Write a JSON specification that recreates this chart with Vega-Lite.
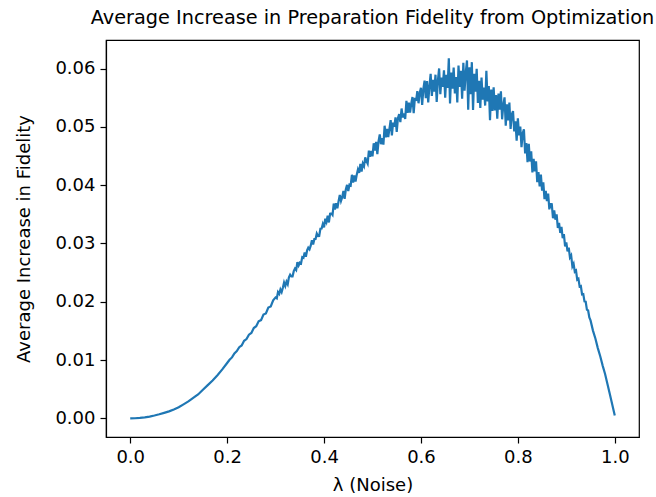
{
  "$schema": "https://vega.github.io/schema/vega-lite/v6.json",
  "width": 533,
  "height": 397,
  "autosize": {"type": "none"},
  "padding": {"left": 106, "top": 40, "right": 17, "bottom": 60},
  "background": "white",
  "title": {"text": "Average Increase in Preparation Fidelity from Optimization", "font": "DejaVu Sans", "fontSize": 19.3, "fontWeight": "normal", "color": "black", "anchor": "middle", "offset": 12},
  "data": {"values": [
    {"lambda":0,"increase":0},{"lambda":0.01,"increase":0.00002},{"lambda":0.02,"increase":0.00008},{"lambda":0.03,"increase":0.00018},{"lambda":0.04,"increase":0.0003},{"lambda":0.05,"increase":0.00048},{"lambda":0.06,"increase":0.0007},{"lambda":0.07,"increase":0.00094},{"lambda":0.08,"increase":0.0012},{"lambda":0.09,"increase":0.00153},{"lambda":0.1,"increase":0.0019},{"lambda":0.11,"increase":0.0024},{"lambda":0.12,"increase":0.0029},{"lambda":0.13,"increase":0.0035},{"lambda":0.14,"increase":0.0041},{"lambda":0.15,"increase":0.0049},{"lambda":0.16,"increase":0.0057},{"lambda":0.17,"increase":0.0065},{"lambda":0.18,"increase":0.0074},{"lambda":0.19,"increase":0.0084},{"lambda":0.2,"increase":0.0095},
    {"lambda":0.205,"increase":0.01005},{"lambda":0.21,"increase":0.01045},{"lambda":0.215,"increase":0.01115},{"lambda":0.22,"increase":0.01155},{"lambda":0.225,"increase":0.0122},{"lambda":0.23,"increase":0.0125},{"lambda":0.235,"increase":0.0133},{"lambda":0.24,"increase":0.0136},{"lambda":0.245,"increase":0.01435},{"lambda":0.25,"increase":0.01465},{"lambda":0.255,"increase":0.0155},{"lambda":0.26,"increase":0.0158},{"lambda":0.265,"increase":0.01665},{"lambda":0.27,"increase":0.01685},{"lambda":0.275,"increase":0.0178},{"lambda":0.28,"increase":0.018},{"lambda":0.285,"increase":0.019},{"lambda":0.29,"increase":0.0192},{"lambda":0.295,"increase":0.02025},
    {"lambda":0.3,"increase":0.02075},{"lambda":0.3025,"increase":0.0206},{"lambda":0.305,"increase":0.02165},{"lambda":0.3075,"increase":0.02135},{"lambda":0.31,"increase":0.0221},{"lambda":0.3125,"increase":0.02165},{"lambda":0.315,"increase":0.0224},{"lambda":0.3175,"increase":0.0233},{"lambda":0.32,"increase":0.0227},{"lambda":0.3225,"increase":0.02345},{"lambda":0.325,"increase":0.023},{"lambda":0.3275,"increase":0.0242},{"lambda":0.33,"increase":0.02465},{"lambda":0.3325,"increase":0.02435},{"lambda":0.335,"increase":0.02435},{"lambda":0.3375,"increase":0.02525},{"lambda":0.34,"increase":0.0257},{"lambda":0.3425,"increase":0.02543},{"lambda":0.345,"increase":0.0268},{"lambda":0.3475,"increase":0.02623},{"lambda":0.35,"increase":0.0267},{"lambda":0.3525,"increase":0.02657},{"lambda":0.355,"increase":0.02765},{"lambda":0.3575,"increase":0.02753},{"lambda":0.36,"increase":0.02845},{"lambda":0.3625,"increase":0.02772},{"lambda":0.365,"increase":0.0288},{"lambda":0.3675,"increase":0.02928},{"lambda":0.37,"increase":0.029},{"lambda":0.3725,"increase":0.02962},{"lambda":0.375,"increase":0.03055},{"lambda":0.3775,"increase":0.02983},{"lambda":0.38,"increase":0.03075},{"lambda":0.3825,"increase":0.03077},{"lambda":0.385,"increase":0.0317},{"lambda":0.3875,"increase":0.03128},{"lambda":0.39,"increase":0.0313},{"lambda":0.3925,"increase":0.03252},{"lambda":0.395,"increase":0.03255},{"lambda":0.3975,"increase":0.03333},
    {"lambda":0.4,"increase":0.03275},{"lambda":0.4025,"increase":0.03427},{"lambda":0.405,"increase":0.0337},{"lambda":0.4075,"increase":0.03478},{"lambda":0.41,"increase":0.0336},{"lambda":0.4125,"increase":0.03512},{"lambda":0.415,"increase":0.03515},{"lambda":0.4175,"increase":0.03488},{"lambda":0.42,"increase":0.03685},{"lambda":0.4225,"increase":0.03582},{"lambda":0.425,"increase":0.0369},{"lambda":0.4275,"increase":0.03603},{"lambda":0.43,"increase":0.03725},{"lambda":0.4325,"increase":0.03832},{"lambda":0.435,"increase":0.0373},{"lambda":0.4375,"increase":0.03793},{"lambda":0.44,"increase":0.039},{"lambda":0.4425,"increase":0.03765},{"lambda":0.445,"increase":0.0393},{"lambda":0.4475,"increase":0.04005},{"lambda":0.45,"increase":0.039},{"lambda":0.4525,"increase":0.04007},{"lambda":0.455,"increase":0.03995},{"lambda":0.4575,"increase":0.04178},{"lambda":0.46,"increase":0.04045},{"lambda":0.4625,"increase":0.04165},{"lambda":0.465,"increase":0.0406},{"lambda":0.4675,"increase":0.0418},{"lambda":0.47,"increase":0.0427},{"lambda":0.4725,"increase":0.04212},{"lambda":0.475,"increase":0.04365},{"lambda":0.4775,"increase":0.04233},{"lambda":0.48,"increase":0.0437},{"lambda":0.4825,"increase":0.04325},{"lambda":0.485,"increase":0.04475},{"lambda":0.4875,"increase":0.04415},{"lambda":0.49,"increase":0.0437},{"lambda":0.4925,"increase":0.04593},{"lambda":0.495,"increase":0.04485},{"lambda":0.4975,"increase":0.04587},
    {"lambda":0.5,"increase":0.04495},{"lambda":0.5025,"increase":0.04718},{"lambda":0.505,"increase":0.04595},{"lambda":0.5075,"increase":0.04742},{"lambda":0.51,"increase":0.0453},{"lambda":0.5125,"increase":0.04753},{"lambda":0.515,"increase":0.0487},{"lambda":0.5175,"increase":0.04702},{"lambda":0.52,"increase":0.04805},{"lambda":0.5225,"increase":0.04695},{"lambda":0.525,"increase":0.0502},{"lambda":0.5275,"increase":0.0482},{"lambda":0.53,"increase":0.04965},{"lambda":0.5325,"increase":0.04825},{"lambda":0.535,"increase":0.0497},{"lambda":0.5375,"increase":0.05115},{"lambda":0.54,"increase":0.04855},{"lambda":0.5425,"increase":0.05072},{"lambda":0.545,"increase":0.05005},{"lambda":0.5475,"increase":0.05163},{"lambda":0.55,"increase":0.04915},{"lambda":0.5525,"increase":0.0515},{"lambda":0.555,"increase":0.0522},{"lambda":0.5575,"increase":0.0508},{"lambda":0.56,"increase":0.05315},{"lambda":0.5625,"increase":0.0516},{"lambda":0.565,"increase":0.0523},{"lambda":0.5675,"increase":0.05135},{"lambda":0.57,"increase":0.05445},{"lambda":0.5725,"increase":0.05242},{"lambda":0.575,"increase":0.05415},{"lambda":0.5775,"increase":0.05243},{"lambda":0.58,"increase":0.054},{"lambda":0.5825,"increase":0.05512},{"lambda":0.585,"increase":0.05235},{"lambda":0.5875,"increase":0.05498},{"lambda":0.59,"increase":0.05445},{"lambda":0.5925,"increase":0.05613},{"lambda":0.595,"increase":0.05405},{"lambda":0.5975,"increase":0.05587},
    {"lambda":0.6,"increase":0.0567},{"lambda":0.6025,"increase":0.05378},{"lambda":0.605,"increase":0.0565},{"lambda":0.6075,"increase":0.05792},{"lambda":0.61,"increase":0.0549},{"lambda":0.6125,"increase":0.05785},{"lambda":0.615,"increase":0.0542},{"lambda":0.6175,"increase":0.057},{"lambda":0.62,"increase":0.0591},{"lambda":0.6225,"increase":0.0553},{"lambda":0.625,"increase":0.05805},{"lambda":0.6275,"increase":0.05605},{"lambda":0.63,"increase":0.05895},{"lambda":0.6325,"increase":0.05428},{"lambda":0.635,"increase":0.058},{"lambda":0.6375,"increase":0.06002},{"lambda":0.64,"increase":0.0556},{"lambda":0.6425,"increase":0.05845},{"lambda":0.645,"increase":0.05685},{"lambda":0.6475,"increase":0.0597},{"lambda":0.65,"increase":0.055},{"lambda":0.6525,"increase":0.05892},{"lambda":0.655,"increase":0.0567},{"lambda":0.6575,"increase":0.06178},{"lambda":0.66,"increase":0.054},{"lambda":0.6625,"increase":0.05932},{"lambda":0.665,"increase":0.05655},{"lambda":0.6675,"increase":0.06018},{"lambda":0.67,"increase":0.05575},{"lambda":0.6725,"increase":0.05855},{"lambda":0.675,"increase":0.0542},{"lambda":0.6775,"increase":0.0605},{"lambda":0.68,"increase":0.05685},{"lambda":0.6825,"increase":0.05963},{"lambda":0.685,"increase":0.05485},{"lambda":0.6875,"increase":0.06097},{"lambda":0.69,"increase":0.0562},{"lambda":0.6925,"increase":0.05935},{"lambda":0.695,"increase":0.0614},{"lambda":0.6975,"increase":0.05295},{"lambda":0.7,"increase":0.0602},{"lambda":0.7025,"increase":0.0556},{"lambda":0.705,"increase":0.0611},{"lambda":0.7075,"increase":0.0529},{"lambda":0.71,"increase":0.0591},{"lambda":0.7125,"increase":0.05603},{"lambda":0.715,"increase":0.05995},{"lambda":0.7175,"increase":0.05412},{"lambda":0.72,"increase":0.0579},{"lambda":0.7225,"increase":0.05325},{"lambda":0.725,"increase":0.05845},{"lambda":0.7275,"increase":0.05465},{"lambda":0.73,"increase":0.05675},{"lambda":0.7325,"increase":0.05365},{"lambda":0.735,"increase":0.0596},{"lambda":0.7375,"increase":0.05435},{"lambda":0.74,"increase":0.057},{"lambda":0.7425,"increase":0.05115},{"lambda":0.745,"increase":0.0564},{"lambda":0.7475,"increase":0.05275},
    {"lambda":0.75,"increase":0.0568},{"lambda":0.7525,"increase":0.05282},{"lambda":0.755,"increase":0.05545},{"lambda":0.7575,"increase":0.05138},{"lambda":0.76,"increase":0.0557},{"lambda":0.7625,"increase":0.05295},{"lambda":0.765,"increase":0.0561},{"lambda":0.7675,"increase":0.0513},{"lambda":0.77,"increase":0.05375},{"lambda":0.7725,"increase":0.05505},{"lambda":0.775,"increase":0.0502},{"lambda":0.7775,"increase":0.05385},{"lambda":0.78,"increase":0.0511},{"lambda":0.7825,"increase":0.05415},{"lambda":0.785,"increase":0.04965},{"lambda":0.7875,"increase":0.05215},{"lambda":0.79,"increase":0.0527},{"lambda":0.7925,"increase":0.04922},{"lambda":0.795,"increase":0.05095},{"lambda":0.7975,"increase":0.04763},{"lambda":0.8,"increase":0.05145},{"lambda":0.8025,"increase":0.04853},{"lambda":0.805,"increase":0.05005},{"lambda":0.8075,"increase":0.04652},{"lambda":0.81,"increase":0.0489},{"lambda":0.8125,"increase":0.04957},{"lambda":0.815,"increase":0.04545},{"lambda":0.8175,"increase":0.04723},{"lambda":0.82,"increase":0.04395},{"lambda":0.8225,"increase":0.0471},{"lambda":0.825,"increase":0.04405},{"lambda":0.8275,"increase":0.0458},{"lambda":0.83,"increase":0.0422},{"lambda":0.8325,"increase":0.0445},{"lambda":0.835,"increase":0.04235},{"lambda":0.8375,"increase":0.0441},{"lambda":0.84,"increase":0.0405},{"lambda":0.8425,"increase":0.04225},{"lambda":0.845,"increase":0.0398},{"lambda":0.8475,"increase":0.0418},
    {"lambda":0.85,"increase":0.03905},{"lambda":0.8525,"increase":0.04048},{"lambda":0.855,"increase":0.0376},{"lambda":0.8575,"increase":0.03902},{"lambda":0.86,"increase":0.03725},{"lambda":0.8625,"increase":0.03857},{"lambda":0.865,"increase":0.03585},{"lambda":0.8675,"increase":0.03678},{"lambda":0.87,"increase":0.03675},{"lambda":0.8725,"increase":0.03432},{"lambda":0.875,"increase":0.03565},{"lambda":0.8775,"increase":0.03408},{"lambda":0.88,"increase":0.035},{"lambda":0.8825,"increase":0.03265},{"lambda":0.885,"increase":0.03355},{"lambda":0.8875,"increase":0.0318},{"lambda":0.89,"increase":0.03285},{"lambda":0.8925,"increase":0.0309},{"lambda":0.895,"increase":0.0316},{"lambda":0.8975,"increase":0.0295},{"lambda":0.9,"increase":0.0302},{"lambda":0.9025,"increase":0.02865},{"lambda":0.905,"increase":0.0293},{"lambda":0.9075,"increase":0.0276},{"lambda":0.91,"increase":0.02795},{"lambda":0.9125,"increase":0.02605},{"lambda":0.915,"increase":0.0265},{"lambda":0.9175,"increase":0.02515},{"lambda":0.92,"increase":0.02535},{"lambda":0.9225,"increase":0.02378},{"lambda":0.925,"increase":0.02395},{"lambda":0.9275,"increase":0.02262},{"lambda":0.93,"increase":0.0227},{"lambda":0.9325,"increase":0.02125},{"lambda":0.935,"increase":0.0213},{"lambda":0.9375,"increase":0.02005},{"lambda":0.94,"increase":0.02},{"lambda":0.9425,"increase":0.01865},{"lambda":0.945,"increase":0.0185},{"lambda":0.9475,"increase":0.0173},
    {"lambda":0.95,"increase":0.0168},{"lambda":0.955,"increase":0.01505},{"lambda":0.96,"increase":0.0137},{"lambda":0.965,"increase":0.01205},{"lambda":0.97,"increase":0.01065},{"lambda":0.975,"increase":0.00905},{"lambda":0.98,"increase":0.0076},{"lambda":0.985,"increase":0.00585},{"lambda":0.99,"increase":0.0041},{"lambda":0.995,"increase":0.0023},{"lambda":1,"increase":0.0005}
  ]},
  "mark": {"type": "line", "color": "#1f77b4", "strokeWidth": 2.2, "clip": true},
  "encoding": {
    "x": {"field": "lambda", "type": "quantitative", "title": "λ (Noise)",
      "scale": {"domain": [-0.05, 1.05], "nice": false, "zero": false},
      "axis": {"values": [0, 0.2, 0.4, 0.6, 0.8, 1.0], "format": ".1f", "labelFlush": false, "titlePadding": 10}},
    "y": {"field": "increase", "type": "quantitative", "title": "Average Increase in Fidelity",
      "scale": {"domain": [-0.0032, 0.0649], "nice": false, "zero": false},
      "axis": {"values": [0, 0.01, 0.02, 0.03, 0.04, 0.05, 0.06], "format": ".2f", "labelFlush": false, "titlePadding": 21}}
  },
  "config": {
    "font": "DejaVu Sans",
    "view": {"stroke": "black", "strokeWidth": 1.2},
    "axis": {"grid": false, "domainColor": "black", "domainWidth": 1.2, "tickColor": "black", "tickWidth": 1.2, "tickSize": 6, "labelPadding": 5, "labelFont": "DejaVu Sans", "labelFontSize": 18, "labelColor": "black", "titleFont": "DejaVu Sans", "titleFontSize": 18, "titleFontWeight": "normal", "titleColor": "black", "labelOverlap": false}
  }
}
